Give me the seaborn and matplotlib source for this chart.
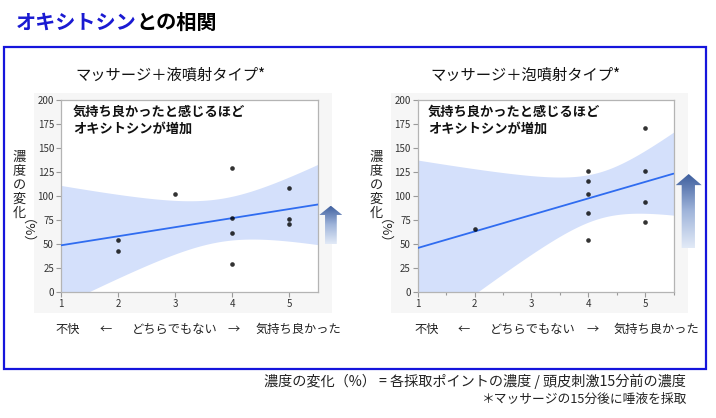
import numpy as np
import matplotlib
matplotlib.use("Agg")
import matplotlib.pyplot as plt
import seaborn as sns
from matplotlib.patches import Rectangle, Polygon
from matplotlib.colors import LinearSegmentedColormap

# ---------------- data ----------------
scale_ticks = [1, 2, 3, 4, 5]
y_ticks = [0, 25, 50, 75, 100, 125, 150, 175, 200]
liquid_x = [2, 2, 3, 4, 4, 4, 4, 5, 5, 5]
liquid_y = [54, 43, 102, 129.5, 77, 61, 29, 108, 76.5, 71]
foam_x = [2, 4, 4, 4, 4, 4, 5, 5, 5, 5]
foam_y = [65, 126, 116, 102, 82, 54, 170.5, 125.5, 94, 72.5]
panel_titles = ["マッサージ＋液噴射タイプ*", "マッサージ＋泡噴射タイプ*"]
annotation = "気持ち良かったと感じるほど\nオキシトシンが増加"
ylabel_chars = "濃度の変化"
ylabel_unit = "（%）"
scale_labels = ["不快", "←", "どちらでもない", "→", "気持ち良かった"]
title_blue = "オキシトシン"
title_black = "との相関"
footer1 = "濃度の変化（%） = 各採取ポイントの濃度 / 頭皮刺激15分前の濃度"
footer2 = "＊マッサージの15分後に唾液を採取"
T_CRIT = 2.306  # t(0.975, df=8)

sns.set_style("white")
plt.rcParams['font.family'] = ['Noto Sans CJK JP', 'DejaVu Sans']

W, H = 716, 418
fig = plt.figure(figsize=(W / 100, H / 100), dpi=100)


def add_ax(x0, y0, x1, y1, **kw):
    return fig.add_axes([x0 / W, 1 - y1 / H, (x1 - x0) / W, (y1 - y0) / H], **kw)


def ftext(x, y, s, **kw):
    return fig.text(x / W, 1 - y / H, s, **kw)


def frect(x0, y0, x1, y1, **kw):
    r = Rectangle((x0 / W, 1 - y1 / H), (x1 - x0) / W, (y1 - y0) / H,
                  transform=fig.transFigure, **kw)
    fig.add_artist(r)
    return r


# blue frame
frect(4, 47, 706, 369, fill=False, edgecolor='#1515dc', lw=1.6, zorder=10)

# title
t1 = ftext(16, 22, title_blue, color='#1a1ad2', fontsize=14.5, fontweight='bold', va='center')
fig.canvas.draw()
bb = t1.get_window_extent()
fig.text(bb.x1 / fig.bbox.width, 1 - 22 / H, title_black, color='black',
         fontsize=14.5, fontweight='bold', va='center')

panels = [
    dict(x=liquid_x, y=liquid_y, bg=(34, 93, 332, 313), ax=(61, 100, 318, 292),
         title_x=170, ann_x=73, ylab_x=19.5, minor=False,
         label_x=[68, 106, 175, 234, 298],
         arrow=(319.3, 205.7, 342.3, 244.3, 0.24, 0.25, 0.76)),
    dict(x=foam_x, y=foam_y, bg=(391, 93, 688, 313), ax=(417.7, 100, 673.5, 291.7),
         title_x=525, ann_x=428, ylab_x=376.5, minor=True,
         label_x=[426.7, 464, 533, 593, 656.7],
         arrow=(675.7, 174, 701.7, 248.3, 0.15, 0.23, 0.74)),
]

cmap = LinearSegmentedColormap.from_list('arr', ['#e2eaf7', '#9fb4da', '#3b5c9c'])

for i, p in enumerate(panels):
    frect(*p['bg'], color='#f6f6f6', lw=0, zorder=-5)
    ax = add_ax(*p['ax'])
    ax.set_facecolor('white')
    ax.set_xlim(1, 5.5)
    ax.set_ylim(0, 200)

    x = np.array(p['x'], float)
    y = np.array(p['y'], float)
    # analytic 95% confidence band of the regression line
    slope, icpt = np.polyfit(x, y, 1)
    n = len(x)
    resid = y - (icpt + slope * x)
    s = np.sqrt(np.sum(resid ** 2) / (n - 2))
    xs = np.linspace(1, 5.5, 300)
    se = s * np.sqrt(1 / n + (xs - x.mean()) ** 2 / np.sum((x - x.mean()) ** 2))
    yhat = icpt + slope * xs
    ax.fill_between(xs, yhat - T_CRIT * se, yhat + T_CRIT * se, color='#d4e0fb', lw=0, zorder=1)

    sns.regplot(x=x, y=y, ax=ax, ci=None, truncate=False,
                scatter_kws=dict(s=11, color='black', linewidths=0, zorder=4),
                line_kws=dict(color='#2f6cf0', lw=1.3, zorder=3))
    ax.set_xlim(1, 5.5)
    ax.set_ylim(0, 200)
    ax.set_xlabel('')
    ax.set_ylabel('')
    ax.set_xticks(scale_ticks)
    ax.set_yticks(y_ticks)
    if p['minor']:
        ax.set_xticks(np.arange(1.5, 6.0, 1.0), minor=True)
    ax.tick_params(axis='both', which='major', length=3.5, width=0.8, color='#9a9a9a',
                   labelsize=7, labelcolor='#333333', pad=1.5, direction='out',
                   bottom=True, left=True)
    ax.tick_params(axis='x', which='minor', length=2.5, width=0.8, color='#9a9a9a',
                   direction='out', bottom=True)
    for sp in ax.spines.values():
        sp.set_visible(True)
        sp.set_color('#b4b4b4')
        sp.set_linewidth(0.9)

    # panel title
    ftext(p['title_x'], 75, panel_titles[i], ha='center', va='center', fontsize=11, color='#111111')
    # annotation
    ftext(p['ann_x'], 120.5, annotation, ha='left', va='center', fontsize=9.5,
          fontweight='bold', color='#111111', linespacing=1.25)
    # stacked y label
    for k, ch in enumerate(ylabel_chars):
        ftext(p['ylab_x'], 157 + k * 14, ch, ha='center', va='center', fontsize=9.5, color='#222222')
    ftext(p['ylab_x'], 238, ylabel_unit, ha='center', va='center', fontsize=9.5,
          rotation=-90, color='#222222')
    # scale labels
    for lx, lab in zip(p['label_x'], scale_labels):
        ftext(lx, 329, lab, ha='center', va='center', fontsize=8.8, color='#222222')

    # gradient arrow
    x0, y0, x1, y1, hf, s0, s1 = p['arrow']
    aax = add_ax(x0, y0, x1, y1)
    aax.set_axis_off()
    aax.set_xlim(0, 1)
    aax.set_ylim(0, 1)
    grad = np.linspace(1, 0, 256).reshape(-1, 1)
    im = aax.imshow(grad, extent=[0, 1, 0, 1], aspect='auto', cmap=cmap, vmin=0, vmax=1)
    poly = Polygon([(0.5, 1), (1, 1 - hf), (s1, 1 - hf), (s1, 0), (s0, 0), (s0, 1 - hf), (0, 1 - hf)],
                   closed=True, transform=aax.transData, facecolor='none', edgecolor='none')
    aax.add_patch(poly)
    im.set_clip_path(poly)

# footers
ftext(686, 381, footer1, ha='right', va='center', fontsize=10.2, color='#222222')
ftext(686, 399, footer2, ha='right', va='center', fontsize=9.2, color='#222222')

fig.savefig('out.png', dpi=100)
